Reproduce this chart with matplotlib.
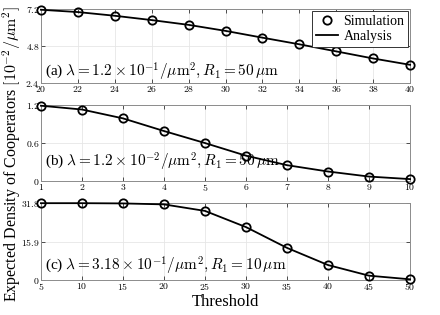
import matplotlib
matplotlib.use("Agg")
import matplotlib.pyplot as plt
from matplotlib.ticker import FuncFormatter

plt.rcParams['font.family'] = ['Liberation Serif', 'DejaVu Serif']
plt.rcParams['mathtext.fontset'] = 'cm'

# данные
th_a = [20, 22, 24, 26, 28, 30, 32, 34, 36, 38, 40]
sim_a = [7.15, 7.00, 6.76, 6.48, 6.17, 5.78, 5.34, 4.91, 4.45, 3.99, 3.58]

th_b = [1, 2, 3, 4, 5, 6, 7, 8, 9, 10]
sim_b = [1.19, 1.13, 0.99, 0.79, 0.60, 0.40, 0.25, 0.15, 0.07, 0.03]

th_c = [5, 10, 15, 20, 25, 30, 35, 40, 45, 50]
sim_c = [31.8, 31.8, 31.7, 31.3, 28.6, 21.9, 13.3, 6.2, 1.8, 0.3]

panels = [
    (th_a, sim_a, list(range(20, 41, 2)), [2.4, 4.8, 7.2], (20, 40), (2.4, 7.2),
     r'(a) $\lambda = 1.2\times10^{-1}/\mu\mathrm{m}^2, R_1 = 50\,\mu\mathrm{m}$', 0.15),
    (th_b, sim_b, list(range(1, 11)), [0, 0.6, 1.2], (1, 10), (0, 1.2),
     r'(b) $\lambda = 1.2\times10^{-2}/\mu\mathrm{m}^2, R_1 = 50\,\mu\mathrm{m}$', 0.25),
    (th_c, sim_c, list(range(5, 51, 5)), [0, 15.9, 31.8], (5, 50), (0, 31.8),
     r'(c) $\lambda = 3.18\times10^{-1}/\mu\mathrm{m}^2, R_1 = 10\,\mu\mathrm{m}$', 0.19),
]

boxes = [
    [0.093, 0.7365, 0.839, 0.235],
    [0.093, 0.4254, 0.839, 0.241],
    [0.093, 0.111, 0.839, 0.244],
]

fig = plt.figure(figsize=(4.4, 3.15), dpi=100)

def fmt(v, pos):
    return '$' + ('%g' % v) + '$'

for i, (x, y, xt, yt, xl, yl, txt, ty) in enumerate(panels):
    ax = fig.add_axes(boxes[i])
    ax.plot(x, y, 'o', color='black', mfc='none', ms=6, mew=1.3,
            clip_on=False, zorder=4, label='Simulation')
    ax.plot(x, y, '-', color='black', lw=1.3, clip_on=False, zorder=3,
            label='Analysis')
    ax.set_xlim(xl)
    ax.set_ylim(yl)
    ax.set_xticks(xt)
    ax.set_yticks(yt)
    ax.xaxis.set_major_formatter(FuncFormatter(fmt))
    ax.yaxis.set_major_formatter(FuncFormatter(fmt))
    ax.tick_params(direction='in', top=True, right=True, labelsize=7,
                   length=3, width=0.6, color='#333333', pad=1)
    ax.grid(True, color='#e6e6e6', lw=0.6)
    ax.set_axisbelow(True)
    for sp in ax.spines.values():
        sp.set_color('#8c8c8c')
        sp.set_linewidth(0.7)
    ax.text(0.012, ty, txt, transform=ax.transAxes, fontsize=11, va='center')
    if i == 0:
        leg = ax.legend(loc='upper right', fontsize=10, handlelength=1.6,
                        handletextpad=0.4, borderpad=0.25, labelspacing=0.2,
                        fancybox=False, framealpha=1, borderaxespad=0.15)
        leg.get_frame().set_edgecolor('#333333')
        leg.get_frame().set_linewidth(0.7)

fig.text(0.026, 0.51, r'Expected Density of Cooperators $[10^{-2}/\mu\mathrm{m}^2]$',
         rotation=90, ha='center', va='center', fontsize=11.5)
fig.text(0.512, 0.04, 'Threshold', ha='center', va='center', fontsize=12)

fig.savefig('out.png', dpi=100)
